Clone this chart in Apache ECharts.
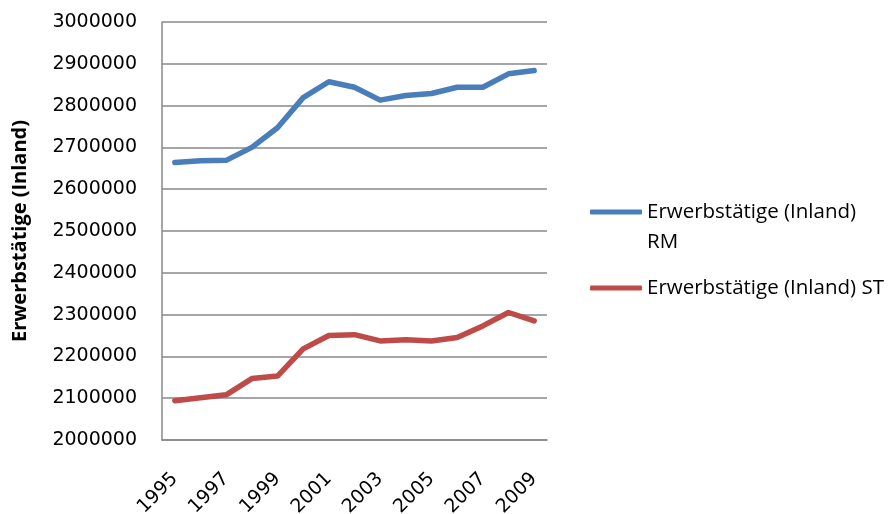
<!DOCTYPE html>
<html>
<head>
<meta charset="utf-8">
<script src="https://cdn.jsdelivr.net/npm/echarts@6/dist/echarts.min.js"></script>
<style>
  html, body { margin: 0; padding: 0; background: #fff; }
  #chart { width: 895px; height: 514px; }
</style>
</head>
<body>
<div id="chart"></div>
<script>
// Employed persons (domestic concept), 1995–2009
const years = ['1995','1996','1997','1998','1999','2000','2001','2002','2003','2004','2005','2006','2007','2008','2009'];
const seriesNames = ['Erwerbstätige (Inland) RM', 'Erwerbstätige (Inland) ST'];
const valuesRM = [2664000, 2668000, 2669000, 2700000, 2747000, 2819000, 2857000, 2844000, 2813000, 2824000, 2829000, 2844000, 2844000, 2876000, 2884000];
const valuesST = [2094000, 2101000, 2108000, 2147000, 2153000, 2218000, 2250000, 2252000, 2237000, 2240000, 2237000, 2245000, 2273000, 2305000, 2285000];
const yAxisTitle = 'Erwerbstätige (Inland)';
const yMin = 2000000, yMax = 3000000, yStep = 100000;

const blue = '#4a7ebb';
const red = '#be4b48';
const gridGray = '#888888';
const labelFont = 'DejaVu Sans';
const textFont = 'Open Sans';

const chart = echarts.init(document.getElementById('chart'), null, { renderer: 'canvas' });

chart.setOption({
  animation: false,
  backgroundColor: '#ffffff',
  grid: { left: 162, right: 348, top: 22, bottom: 74, containLabel: false, outerBoundsMode: 'none' },
  xAxis: {
    type: 'category',
    data: years,
    boundaryGap: true,
    axisLine: { show: true, lineStyle: { color: gridGray, width: 1.5 } },
    axisTick: { show: false },
    axisLabel: {
      interval: 1,
      rotate: 45,
      margin: 36,
      color: '#000',
      fontFamily: labelFont,
      fontSize: 19
    }
  },
  yAxis: {
    type: 'value',
    min: yMin,
    max: yMax,
    interval: yStep,
    name: yAxisTitle,
    nameLocation: 'middle',
    nameRotate: 90,
    nameGap: 132,
    nameTextStyle: { color: '#000', fontFamily: textFont, fontWeight: 'bold', fontSize: 20 },
    axisLine: { show: true, lineStyle: { color: gridGray, width: 1.5 } },
    axisTick: { show: false },
    splitLine: { show: true, lineStyle: { color: gridGray, width: 1.5 } },
    axisLabel: {
      margin: 25,
      color: '#000',
      fontFamily: labelFont,
      fontSize: 19,
      formatter: (v) => String(v)
    }
  },
  legend: [
    {
      orient: 'vertical',
      left: 590,
      top: 167,
      padding: 0,
      icon: 'roundRect',
      itemWidth: 52,
      itemHeight: 5,
      data: [seriesNames[0]],
      // blank leading line keeps the marker level with the first text line
      formatter: () => ' \nErwerbstätige (Inland)\nRM',
      textStyle: { color: '#000', fontFamily: textFont, fontSize: 20.5, lineHeight: 30 }
    },
    {
      orient: 'vertical',
      left: 590,
      top: 273,
      padding: 0,
      icon: 'roundRect',
      itemWidth: 52,
      itemHeight: 5,
      data: [seriesNames[1]],
      textStyle: { color: '#000', fontFamily: textFont, fontSize: 20.5, lineHeight: 30 }
    }
  ],
  series: [
    {
      name: seriesNames[0],
      type: 'line',
      data: valuesRM,
      symbol: 'none',
      lineStyle: { color: blue, width: 5.5, cap: 'round', join: 'round' },
      itemStyle: { color: blue }
    },
    {
      name: seriesNames[1],
      type: 'line',
      data: valuesST,
      symbol: 'none',
      lineStyle: { color: red, width: 5.5, cap: 'round', join: 'round' },
      itemStyle: { color: red }
    }
  ]
});
</script>
</body>
</html>
